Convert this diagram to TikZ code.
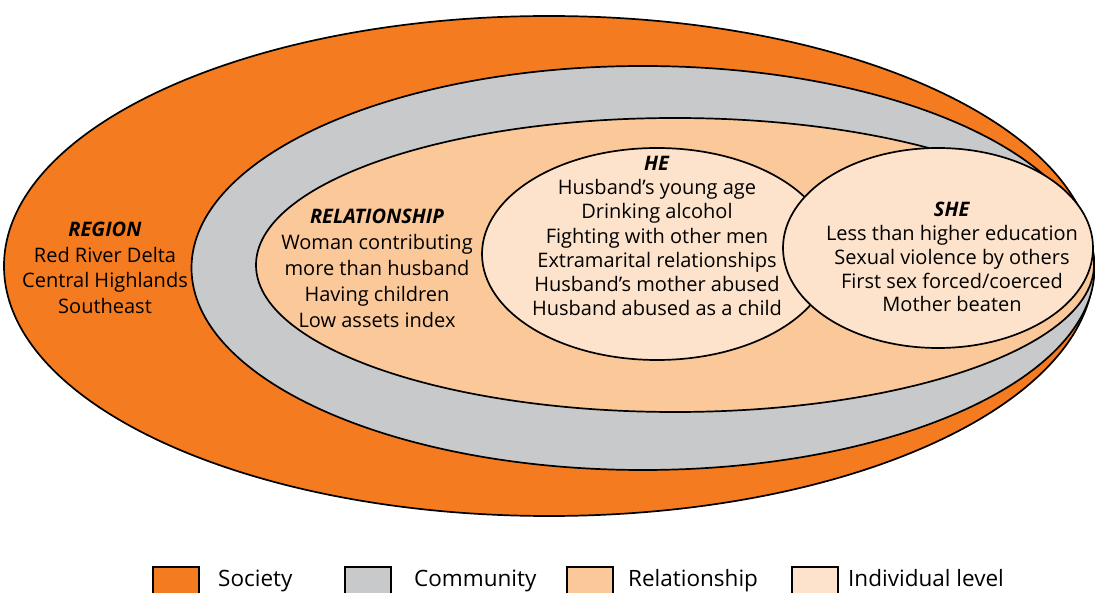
\documentclass[tikz,border=0pt]{standalone}
\usepackage{fontspec}
\setmainfont{Open Sans}
\usepackage{xcolor}
\usetikzlibrary{shapes.geometric}
\definecolor{societyc}{HTML}{F47B20}
\definecolor{communityc}{HTML}{C8C9CA}
\definecolor{relationc}{HTML}{FBC89A}
\definecolor{individc}{HTML}{FDE3CB}
\newcommand{\hd}[1]{\textbf{\textit{#1}}}
\tikzset{
    ring/.style = {ellipse, draw, line width=1.7pt, inner sep=0pt},
    txt/.style = {align=center, anchor=north, inner sep=0pt,
        font=\fontsize{20}{#1}\selectfont},
    txt/.default = 24.5,
    key/.style = {draw, line width=1.5pt, minimum width=46pt, minimum height=32pt, inner sep=0pt},
    keytxt/.style = {anchor=base west, inner sep=0pt, font=\fontsize{22.5}{26}\selectfont}
}

\begin{document}
\begin{tikzpicture}[x=1pt, y=-1pt]
    \useasboundingbox (0,0) rectangle (1095,593);
    % nested levels
    \node (society) [ring, fill=societyc, minimum width=1090pt, minimum height=500pt] at (549,266) {};
    \node (community) [ring, fill=communityc, minimum width=903pt, minimum height=404pt] at (643,268) {};
    \node (relation) [ring, fill=relationc, minimum width=838pt, minimum height=294pt] at (675,265) {};
    \node (he) [ring, fill=individc, minimum width=350pt, minimum height=212pt] at (657,254) {};
    \node (she) [ring, fill=individc, minimum width=310pt, minimum height=200pt] at (938,248) {};

    % labels
    \node (region) [txt=25.5] at (105,222)
        {\hd{REGION}\\Red River Delta\\Central Highlands\\Southeast};
    \node (rel) [txt=26] at (377,209)
        {\hd{RELATIONSHIP}\\Woman contributing\\more than husband\\Having children\\Low assets index};
    \node (hetxt) [txt=24.2] at (657,156)
        {\hd{HE}\\Husband's young age\\Drinking alcohol\\Fighting with other men\\Extramarital relationships\\Husband's mother abused\\Husband abused as a child};
    \node (shetxt) [txt=23.8] at (952,202)
        {\hd{SHE}\\Less than higher education\\Sexual violence by others\\First sex forced/coerced\\Mother beaten};

    % legend
    \node (k1) [key, fill=societyc] at (176,583) {};
    \node [keytxt] at (218,586) {Society};
    \node (k2) [key, fill=communityc] at (368,583) {};
    \node [keytxt] at (414,586) {Community};
    \node (k3) [key, fill=relationc] at (590,583) {};
    \node [keytxt] at (628,586) {Relationship};
    \node (k4) [key, fill=individc] at (815,583) {};
    \node [keytxt] at (848,586) {Individual level};
\end{tikzpicture}
\end{document}
